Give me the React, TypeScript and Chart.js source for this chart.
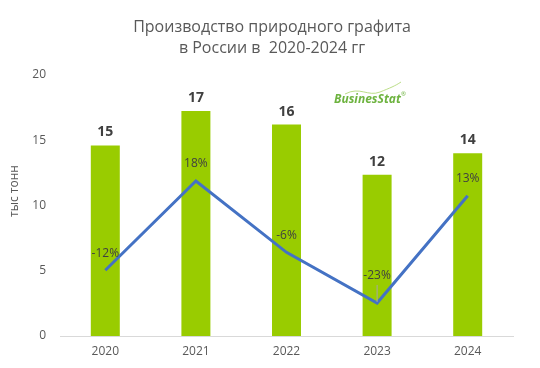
import React, { useEffect, useRef } from "react";
import { Chart, registerables } from "chart.js";

Chart.register(...registerables);

const titleLines = ["Производство природного графита", "в России в  2020-2024 гг"];
const years = ["2020", "2021", "2022", "2023", "2024"];
const production = [14.6, 17.25, 16.2, 12.35, 14.0];
const growthPct = [-12, 18, -6, -23, 13];
const yTicks = [0, 5, 10, 15, 20];
const yAxisTitle = "тыс тонн";

const FONT = '"Open Sans", "Noto Sans", sans-serif';

const overlayPlugin = {
  id: "overlay",
  afterDatasetsDraw(chart: any) {
    const ctx = chart.ctx;
    ctx.save();
    // title
    ctx.fillStyle = "#595959";
    ctx.textAlign = "center";
    ctx.textBaseline = "middle";
    ctx.font = `16px ${FONT}`;
    ctx.fillText(titleLines[0], 272, 27);
    ctx.fillText(titleLines[1], 272, 48);

    // y axis title
    ctx.save();
    ctx.translate(15, 191);
    ctx.rotate(-Math.PI / 2);
    ctx.font = `12px ${FONT}`;
    ctx.fillStyle = "#595959";
    ctx.fillText(yAxisTitle, 0, 0);
    ctx.restore();

    // bar labels
    const barMeta = chart.getDatasetMeta(0);
    ctx.font = `bold 14px ${FONT}`;
    ctx.fillStyle = "#404040";
    barMeta.data.forEach((el: any, i: number) => {
      ctx.fillText(String(Math.round(production[i])), el.x, el.y - 13);
    });

    // line labels
    const lineMeta = chart.getDatasetMeta(1);
    ctx.font = `12px ${FONT}`;
    lineMeta.data.forEach((el: any, i: number) => {
      const txt = `${growthPct[i]}%`;
      let dy = 17;
      if (i === 3) {
        dy = 27;
        ctx.strokeStyle = "#a6a6a6";
        ctx.lineWidth = 1;
        ctx.beginPath();
        ctx.moveTo(el.x, el.y - 18);
        ctx.lineTo(el.x, el.y - 1);
        ctx.stroke();
      }
      ctx.fillStyle = "#404040";
      ctx.fillText(txt, el.x, el.y - dy);
    });

    // logo
    ctx.strokeStyle = "#a9d46a";
    ctx.lineWidth = 0.8;
    ctx.beginPath();
    ctx.moveTo(345, 94);
    ctx.bezierCurveTo(360, 86, 368, 97, 380, 92);
    ctx.bezierCurveTo(390, 88, 395, 86, 401, 82);
    ctx.stroke();
    ctx.textAlign = "left";
    ctx.font = `italic bold 12px ${FONT}`;
    ctx.fillStyle = "#6db33f";
    ctx.fillText("BusinesStat", 334, 100);
    ctx.font = `6px ${FONT}`;
    ctx.fillText("®", 401, 94);
    ctx.restore();
  },
};

export default function App() {
  const ref = useRef<HTMLCanvasElement>(null);
  useEffect(() => {
    if (!ref.current) return;
    const chart = new Chart(ref.current, {
      type: "bar",
      data: {
        labels: years,
        datasets: [
          {
            type: "bar",
            data: production,
            backgroundColor: "#99CC00",
            barPercentage: 0.64,
            categoryPercentage: 0.5,
            order: 1,
            yAxisID: "y",
          },
          {
            type: "line",
            data: growthPct,
            borderColor: "#4472C4",
            borderWidth: 3,
            pointRadius: 0,
            tension: 0,
            order: 0,
            yAxisID: "y1",
          } as any,
        ],
      },
      plugins: [overlayPlugin],
      options: {
        animation: false,
        responsive: false,
        maintainAspectRatio: false,
        layout: { padding: { top: 75, right: 27, bottom: 0, left: 0 } },
        plugins: {
          legend: { display: false },
          tooltip: { enabled: false },
          title: { display: false },
        },
        scales: {
          x: {
            grid: { display: false, drawTicks: false },
            border: { display: true, color: "#d9d9d9", width: 1 },
            ticks: { color: "#595959", font: { family: FONT, size: 12 }, padding: 8 },
            afterFit(scale: any) {
              scale.height = 32;
            },
          },
          y: {
            min: 0,
            max: 20,
            afterBuildTicks(scale: any) {
              scale.ticks = yTicks.map((v) => ({ value: v }));
            },
            grid: { display: false, drawTicks: false },
            border: { display: false },
            ticks: { color: "#595959", font: { family: FONT, size: 12 }, padding: 14 },
            afterFit(scale: any) {
              scale.width = 60;
            },
          },
          y1: {
            display: false,
            min: -34.1,
            max: 53.6,
          },
        },
      },
    });
    return () => chart.destroy();
  }, []);
  return (
    <div style={{ position: "fixed", left: 0, top: 0, width: 540, height: 368, background: "#fff" }}>
      <canvas ref={ref} width={540} height={368} style={{ width: 540, height: 368 }} />
    </div>
  );
}
